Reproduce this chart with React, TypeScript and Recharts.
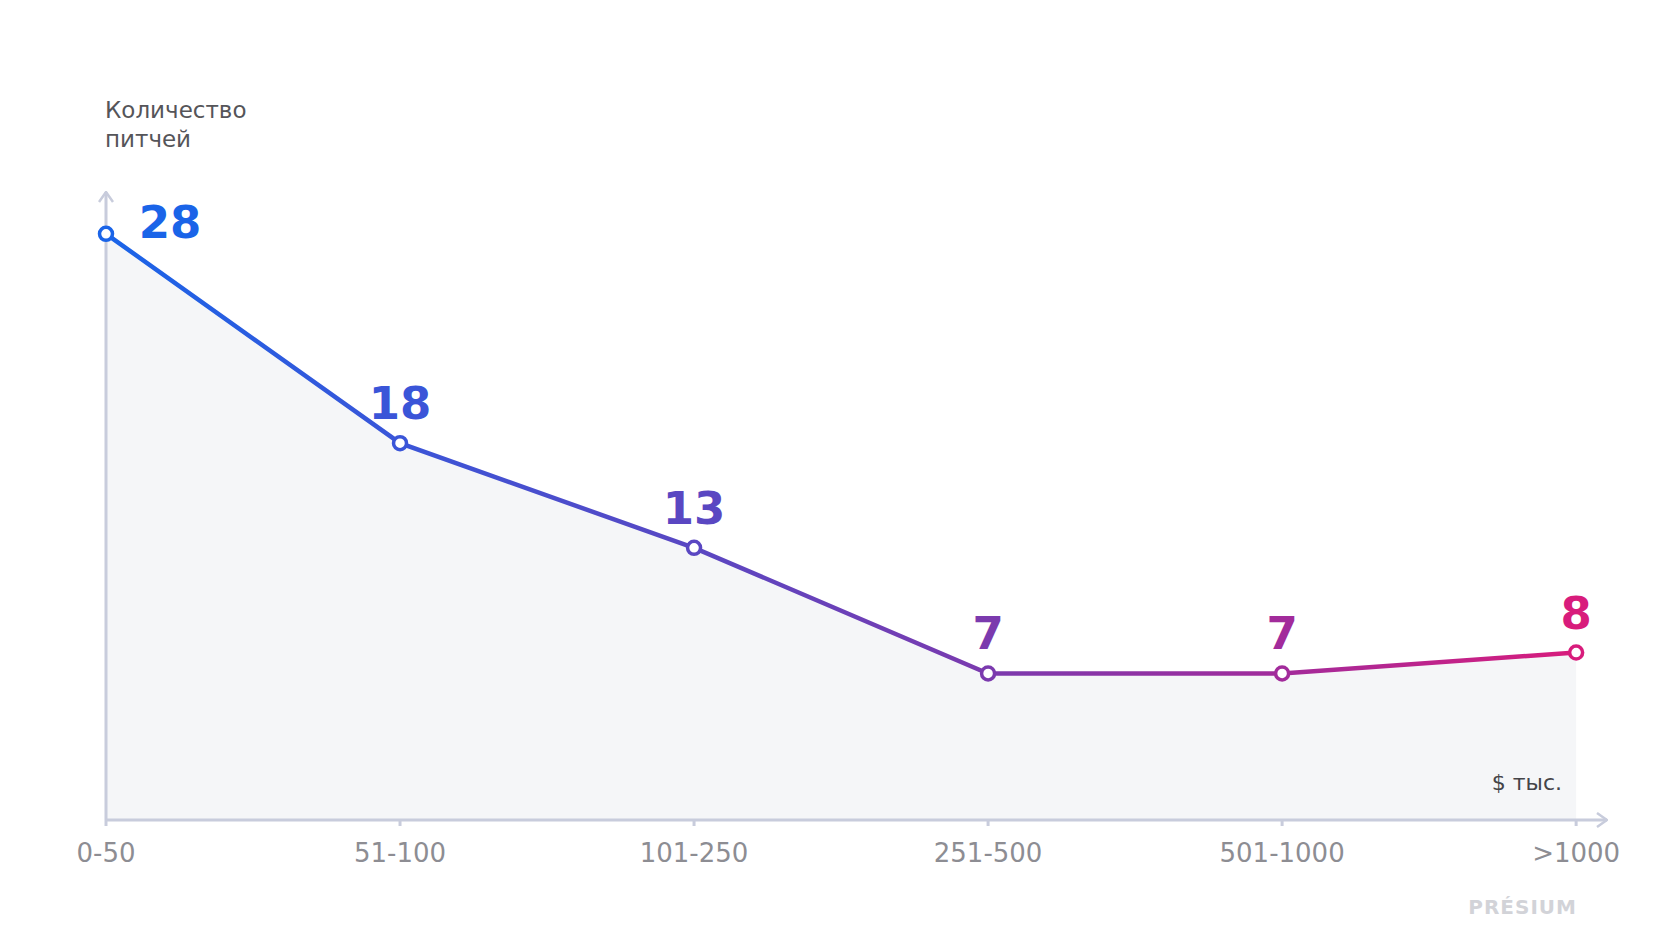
import React from 'react';
import { ComposedChart, Area, Line, XAxis, YAxis, LabelList } from 'recharts';

// pitch amount buckets, $ thousands
const categories = ['0-50', '51-100', '101-250', '251-500', '501-1000', '>1000'];
const pitchCounts = [28, 18, 13, 7, 7, 8];
const pointColors = ['#1a64e8', '#3a55d8', '#5a47c2', '#7b3aae', '#a22b9b', '#d81c7c'];
const xTicks = [0, 1, 2, 3, 4, 5];

const data = categories.map((name, i) => ({ idx: i, name, count: pitchCounts[i] }));

const AXIS = '#c8ccdc';
const FONT = '"DejaVu Sans", sans-serif';

const renderDot = (props: any) => {
  const { cx, cy, index } = props;
  return (
    <circle
      key={`dot-${index}`}
      cx={cx}
      cy={cy}
      r={6.5}
      fill="#ffffff"
      stroke={pointColors[index]}
      strokeWidth={3.5}
    />
  );
};

const renderValue = (props: any) => {
  const { x, y, value, index } = props;
  const first = index === 0;
  const cx = first ? x + 64 : x;
  const cy = first ? y - 12 : y - 40;
  return (
    <text
      key={`lbl-${index}`}
      x={cx}
      y={cy + 16}
      textAnchor="middle"
      fill={pointColors[index]}
      fontFamily={FONT}
      fontWeight={700}
      fontSize={45}
    >
      {value}
    </text>
  );
};

const App: React.FC = () => {
  return (
    <div style={{ position: 'absolute', left: 0, top: 0, width: 1680, height: 945, background: '#fff' }}>
      <ComposedChart
        width={1680}
        height={945}
        data={data}
        margin={{ top: 192, right: 73, left: 104, bottom: 65 }}
      >
        <defs>
          <linearGradient id="lineGrad" x1="0" y1="0" x2="1" y2="0">
            <stop offset="0" stopColor={pointColors[0]} />
            <stop offset="0.2" stopColor={pointColors[1]} />
            <stop offset="0.4" stopColor={pointColors[2]} />
            <stop offset="0.6" stopColor={pointColors[3]} />
            <stop offset="0.8" stopColor={pointColors[4]} />
            <stop offset="1" stopColor={pointColors[5]} />
          </linearGradient>
          <marker
            id="arrowHead"
            viewBox="0 0 12 16"
            refX="11"
            refY="8"
            markerWidth="12"
            markerHeight="16"
            markerUnits="userSpaceOnUse"
            orient="auto-start-reverse"
          >
            <path d="M1,1 L11,8 L1,15" fill="none" stroke={AXIS} strokeWidth={2.5} />
          </marker>
        </defs>
        <XAxis
          dataKey="idx"
          type="number"
          domain={[0, 5.105]}
          ticks={xTicks}
          tickFormatter={(v) => categories[v]}
          height={60}
          axisLine={{ stroke: AXIS, strokeWidth: 3, markerEnd: 'url(#arrowHead)' }}
          tickLine={{ stroke: AXIS, strokeWidth: 3 }}
          tickSize={6}
          tickMargin={18}
          tick={{ fill: '#8d8d93', fontSize: 26, fontFamily: FONT }}
          interval={0}
        />
        <Area
          type="linear"
          dataKey="count"
          stroke="none"
          fill="#f5f6f8"
          fillOpacity={1}
          isAnimationActive={false}
        />
        <YAxis
          type="number"
          domain={[0, 30]}
          width={2}
          tick={false}
          tickLine={false}
          axisLine={{ stroke: AXIS, strokeWidth: 3, markerStart: 'url(#arrowHead)' }}
        />
        <Line
          type="linear"
          dataKey="count"
          stroke="url(#lineGrad)"
          strokeWidth={4.5}
          dot={renderDot}
          activeDot={false}
          isAnimationActive={false}
        >
          <LabelList dataKey="count" content={renderValue} />
        </Line>
      </ComposedChart>

      <div
        style={{
          position: 'absolute',
          left: 105,
          top: 96,
          fontFamily: FONT,
          fontSize: 23,
          lineHeight: '29px',
          color: '#555559',
        }}
      >
        Количество
        <br />
        питчей
      </div>
      <div
        style={{
          position: 'absolute',
          right: 1680 - 1562,
          top: 770,
          fontFamily: FONT,
          fontSize: 22,
          color: '#444448',
        }}
      >
        $ тыс.
      </div>
      <div
        style={{
          position: 'absolute',
          right: 1680 - 1577,
          top: 895,
          fontFamily: FONT,
          fontSize: 20,
          fontWeight: 700,
          letterSpacing: 1,
          color: '#d2d3d8',
        }}
      >
        PRÉSIUM
      </div>
    </div>
  );
};

export default App;
